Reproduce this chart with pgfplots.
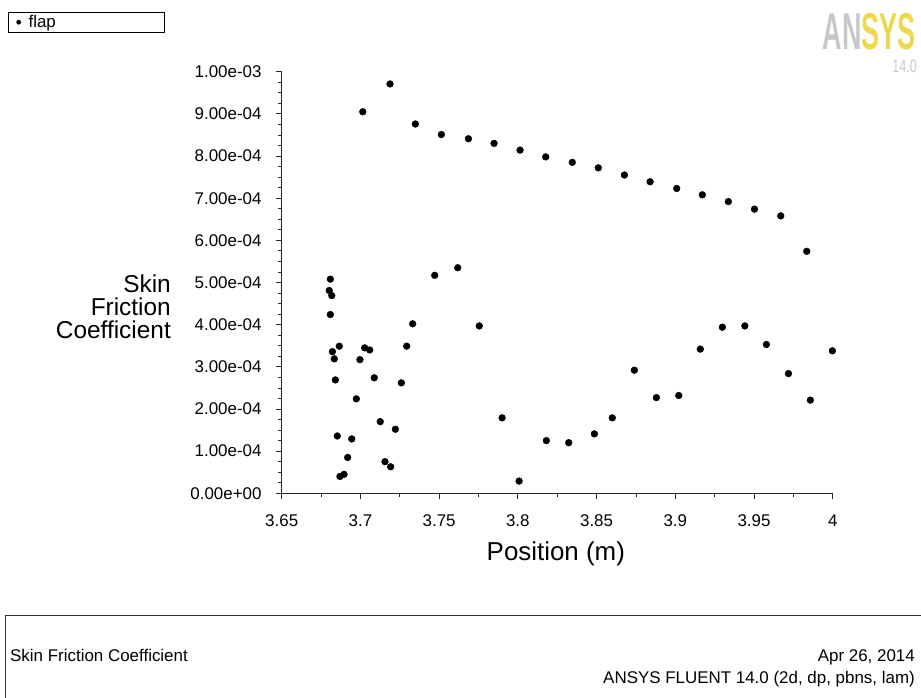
\documentclass[border=0pt]{standalone}
\usepackage{fontspec}
\setmainfont{Liberation Sans}
\usepackage{pgfplots}
\pgfplotsset{compat=1.18}
\usepackage{graphicx}
\definecolor{ansysyellow}{HTML}{EFD84A}
\definecolor{logogray}{HTML}{C8C8C8}
\begin{document}
\begin{tikzpicture}[x=1bp,y=1bp]
\path[use as bounding box] (0,0) rectangle (921,-698);
\begin{axis}[
  at={(281.7bp,-493.3bp)}, anchor=south west,
  scale only axis, width=551bp, height=421.6bp,
  xmin=3.65, xmax=4, ymin=0, ymax=1e-3,
  axis x line=bottom, axis y line=left,
  axis line style={-, line width=0.8bp, black!85},
  xtick={3.65,3.7,3.75,3.8,3.85,3.9,3.95,4},
  xticklabels={3.65,3.7,3.75,3.8,3.85,3.9,3.95,4},
  ytick={0,1e-4,2e-4,3e-4,4e-4,5e-4,6e-4,7e-4,8e-4,9e-4,1e-3},
  yticklabels={0.00e+00,1.00e-04,2.00e-04,3.00e-04,4.00e-04,5.00e-04,6.00e-04,7.00e-04,8.00e-04,9.00e-04,1.00e-03},
  scaled y ticks=false, scaled x ticks=false,
  minor x tick num=1, minor y tick num=3,
  tick align=outside,
  major tick length=6bp, minor tick length=3.5bp,
  tick style={line width=0.8bp, black!85},
  ticklabel style={font=\fontsize{17}{17}\selectfont, inner sep=0pt},
  yticklabel style={anchor=east, xshift=-14bp},
  xticklabel style={anchor=north, yshift=-15bp},
  xlabel={Position (m)},
  xlabel style={at={(axis description cs:0.4975,-0.1582)}, anchor=base, font=\fontsize{26}{26}\selectfont},
  ylabel={Skin\\Friction\\Coefficient},
  ylabel style={rotate=-90, align=right, anchor=east, inner sep=0pt,
    at={(axis description cs:-0.2009,0.4424)}, font=\fontsize{24.5}{23.5}\selectfont},
  legend style={at={(axis description cs:-0.4967,1.1416)}, anchor=north west,
    draw=black, line width=0.7bp, inner xsep=2bp, inner ysep=1.5bp,
    font=\fontsize{17}{17}\selectfont, nodes={inner sep=1.5bp}},
  legend cell align=left,
  legend image code/.code={\path (0bp,0bp) (16bp,0bp); \fill[black] (8bp,0bp) circle (2bp);},
  clip=false,
]
\addplot[only marks, mark=*, mark size=3.4bp, black] coordinates {
(3.7015,9.05e-4) (3.7188,9.71e-4) (3.7349,8.76e-4) (3.7514,8.51e-4)
(3.7686,8.41e-4) (3.7849,8.30e-4) (3.8014,8.14e-4) (3.8177,7.98e-4)
(3.8346,7.85e-4) (3.8511,7.72e-4) (3.8677,7.55e-4) (3.8840,7.39e-4)
(3.9009,7.23e-4) (3.9172,7.08e-4) (3.9337,6.92e-4) (3.9503,6.74e-4)
(3.9670,6.58e-4) (3.9835,5.74e-4)
(3.6809,5.08e-4) (3.6802,4.81e-4) (3.6818,4.69e-4) (3.6809,4.24e-4)
(3.6822,3.36e-4) (3.6866,3.49e-4) (3.6834,3.19e-4) (3.6841,2.69e-4)
(3.6853,1.36e-4) (3.6870,0.40e-4) (3.6896,0.45e-4) (3.6919,0.85e-4)
(3.6945,1.29e-4) (3.6974,2.24e-4) (3.6997,3.17e-4) (3.7027,3.45e-4)
(3.7059,3.40e-4) (3.7088,2.74e-4) (3.7126,1.70e-4) (3.7156,0.75e-4)
(3.7192,0.63e-4) (3.7222,1.52e-4) (3.7260,2.62e-4) (3.7294,3.49e-4)
(3.7332,4.02e-4) (3.7472,5.17e-4) (3.7618,5.35e-4) (3.7755,3.97e-4)
(3.7900,1.79e-4) (3.8008,0.29e-4) (3.8181,1.25e-4) (3.8323,1.20e-4)
(3.8486,1.41e-4) (3.8600,1.79e-4) (3.8740,2.92e-4) (3.8880,2.27e-4)
(3.9022,2.32e-4) (3.9159,3.42e-4) (3.9299,3.94e-4) (3.9442,3.97e-4)
(3.9579,3.53e-4) (3.9719,2.84e-4) (3.9858,2.21e-4) (3.9998,3.38e-4)
};
\addlegendentry{\makebox[132bp][l]{flap}}
\end{axis}
% ANSYS logo
\node[anchor=north east, inner sep=0pt] at (916,-13) {\scalebox{0.52}[1]{\fontsize{52}{52}\selectfont\bfseries\textcolor{logogray}{AN}\textcolor{ansysyellow}{SYS}}};
\node[anchor=north east, inner sep=0pt] at (917,-60) {\scalebox{0.7}[1]{\fontsize{18}{18}\selectfont\textcolor{logogray}{14.0}}};
% footer
\draw[line width=0.8bp, black!80] (5,-698) -- (5,-615) -- (921,-615);
\node[anchor=base west, inner sep=0pt, font=\fontsize{17}{17}\selectfont] at (10,-661) {Skin Friction Coefficient};
\node[anchor=base east, inner sep=0pt, font=\fontsize{17}{17}\selectfont] at (915,-661) {Apr 26, 2014};
\node[anchor=base east, inner sep=0pt, font=\fontsize{17}{17}\selectfont] at (915,-683) {ANSYS FLUENT 14.0 (2d, dp, pbns, lam)};
\end{tikzpicture}
\end{document}
